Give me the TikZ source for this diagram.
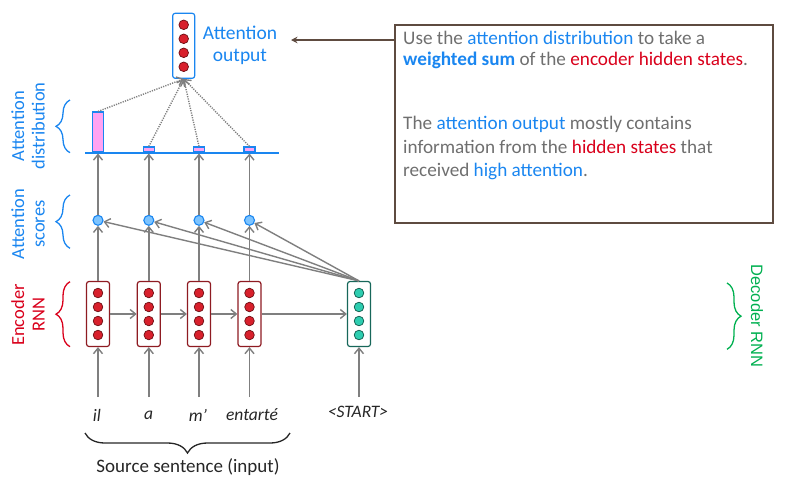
\documentclass[tikz,border=0pt]{standalone}
\usepackage{fontspec}
\setmainfont{Carlito}
\newfontfamily\arialfont{Liberation Sans}
\usetikzlibrary{arrows.meta,decorations.pathreplacing,calc}

\definecolor{attblue}{HTML}{1A86F0}
\definecolor{encred}{HTML}{D9001B}
\definecolor{encborder}{HTML}{8E1B22}
\definecolor{dotred}{HTML}{D8202C}
\definecolor{dotredline}{HTML}{6E0F14}
\definecolor{decgreen}{HTML}{00B050}
\definecolor{decborder}{HTML}{17675A}
\definecolor{dotteal}{HTML}{2ECDB0}
\definecolor{dottealline}{HTML}{0E5A4C}
\definecolor{scorefill}{HTML}{7DC4FF}
\definecolor{barpink}{HTML}{FFA3F2}
\definecolor{linegray}{HTML}{7F7F7F}
\definecolor{textgray}{HTML}{6F6F6F}
\definecolor{boxbrown}{HTML}{5E4B40}

\tikzset{
  rnnbox/.style={rounded corners=2.5pt, line width=1.2pt, minimum width=23pt,
    minimum height=65pt, inner sep=0pt, fill=white},
  encbox/.style={rnnbox, draw=encborder},
  decbox/.style={rnnbox, draw=decborder},
  outbox/.style={rnnbox, draw=attblue, minimum width=22pt},
  encdot/.style={fill=dotred, draw=dotredline, line width=0.7pt},
  decdot/.style={fill=dotteal, draw=dottealline, line width=0.7pt},
  scorenode/.style={circle, fill=scorefill, draw=attblue, line width=1.1pt,
    minimum size=10pt, inner sep=0pt},
  barnode/.style={fill=barpink, draw=attblue, line width=1.3pt, inner sep=0pt,
    minimum width=11pt, anchor=south},
  flow/.style={draw=linegray, line width=1.4pt, -{Straight Barb[length=5.5pt,width=9pt]}},
  dotflow/.style={draw=linegray, line width=1.4pt, dash pattern=on 1.2pt off 1.2pt,
    -{Straight Barb[length=5.5pt,width=9pt]}},
  sidelabel/.style={rotate=90, align=center, font=\fontsize{18.5}{20.5}\selectfont},
  lbrace/.style={decorate, decoration={brace, amplitude=14pt}, line width=1.3pt},
  word/.style={font=\fontsize{17.5}{20}\selectfont\itshape, text=black!85},
  boxtext/.style={anchor=mid west, inner sep=0pt, text=textgray,
    font=\fontsize{19.2}{22}\selectfont},
}

\begin{document}
\begin{tikzpicture}[x=1pt, y=-1pt]
\useasboundingbox (0,0) rectangle (808,491);

% encoder hidden states, attention scores and distribution bars
\draw[attblue, line width=1.6pt] (85,152.7) -- (279,152.7);
\foreach \i/\x/\h in {1/98/40, 2/148.8/5, 3/199/5, 4/249.5/5} {
  \node[encbox] (e\i) at (\x,314) {};
  \foreach \dy in {-21,-7,7,21}
    \draw[encdot] (\x,314+\dy) circle[radius=4.8pt];
  \node[scorenode] (s\i) at (\x,220.3) {};
  \node[barnode, minimum height=\h pt] (bar\i) at (\x,152.7) {};
  \coordinate (base\i) at (\x,153.5);
  \coordinate (in\i) at (\x,397);
}

% decoder hidden state
\node[decbox] (d) at (359,314) {};
\foreach \dy in {-21,-7,7,21}
  \draw[decdot] (359,314+\dy) circle[radius=4.8pt];
\coordinate (in5) at (359,397);

% attention output vector
\node[outbox] (o) at (183.7,45.8) {};
\foreach \dy in {-21,-7,7,21}
  \draw[encdot] (183.7,45.8+\dy) circle[radius=4.8pt];
\node[text=attblue, align=center, font=\fontsize{19.5}{22}\selectfont]
  (olabel) at (240,45) {Attention\\output};

% recurrent connections
\draw[flow] (e1) -- (e2);
\draw[flow] (e2) -- (e3);
\draw[flow] (e3) -- (e4);
\draw[flow] (e4) -- (d);

% scores and distribution
\foreach \i in {1,...,4} {
  \draw[flow] (e\i.north) -- (s\i.south);
  \draw[flow] (s\i.north) -- (base\i);
  \draw[flow] (d.north) -- (s\i);
  \draw[dotflow] (bar\i.north) -- (o.south);
}

% source words and decoder input
\node[word] (w1) at (97,415) {il};
\node[word] (w2) at (148.5,415) {a};
\node[word] (w3) at (198,415) {m’};
\node[word] (w4) at (252,415) {entarté};
\node[word] (w5) at (358,412) {<START>};
\foreach \i in {1,...,4} \draw[flow] (in\i) -- (e\i.south);
\draw[flow] (in5) -- (d.south);

\draw[lbrace, black!85, decoration={amplitude=20pt}] (290,433) -- (85,433);
\node[font=\fontsize{19}{22}\selectfont, text=black!85] (src) at (188,467)
  {Source sentence (input)};

% side labels and braces
\node[sidelabel, text=attblue] (ldist) at (28,126) {Attention\\distribution};
\draw[lbrace, attblue] (70,152.7) -- (70,100);
\node[sidelabel, text=attblue] (lscore) at (28,224) {Attention\\scores};
\draw[lbrace, attblue] (70,248.3) -- (70,195);
\node[sidelabel, text=encred] (lenc) at (28,315) {Encoder\\RNN};
\draw[lbrace, encred] (70,346.7) -- (70,281.7);

\node[rotate=-90, text=decgreen, font=\arialfont\fontsize{16.5}{20}\selectfont]
  (ldec) at (757,316) {Decoder RNN};
\draw[lbrace, decgreen] (727,283) -- (727,349.3);

% explanation box
\node[draw=boxbrown, line width=2pt, minimum width=377.7pt, minimum height=198.3pt,
  inner sep=0pt] (tb) at (584,124.2) {};
\coordinate (tbleft) at (395,40);
\coordinate (otip) at (291,40);
\draw[boxbrown, line width=1.4pt, -{Stealth[length=6.5pt,width=6.5pt]}] (tbleft) -- (otip);

\node[boxtext] (t1) at (403,41.7) {Use the \textcolor{attblue}{attention distribution} to take a};
\node[boxtext] (t2) at (403,63.3) {\textcolor{attblue}{\textbf{weighted sum}} of the \textcolor{encred}{encoder hidden states}.};
\node[boxtext] (t3) at (403,127.3) {The \textcolor{attblue}{attention output} mostly contains};
\node[boxtext] (t4) at (403,150.7) {information from the \textcolor{encred}{hidden states} that};
\node[boxtext] (t5) at (403,174) {received \textcolor{attblue}{high attention}.};
\end{tikzpicture}
\end{document}
